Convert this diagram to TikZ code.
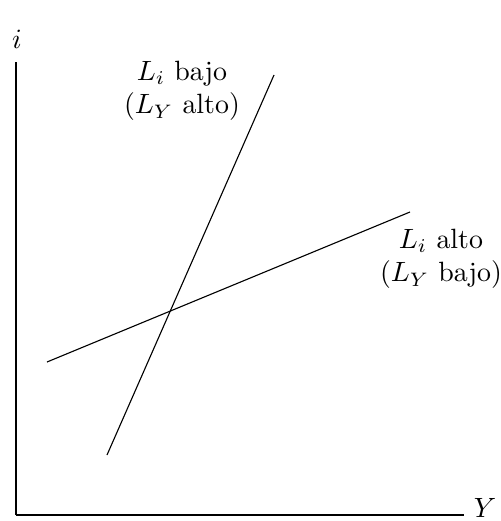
\documentclass[tikz,border=0pt]{standalone}
\usetikzlibrary{positioning}
\begin{document}
\begin{tikzpicture}[x=0.0126cm, y=-0.0126cm]
  \useasboundingbox (0,0) rectangle (500,521);
  % axes
  \coordinate (O) at (16,515);
  \coordinate (itop) at (16,62);
  \node (ilab) at (17,39) {$i$};
  \node (Ylab) at (485,508) {$Y$};
  \draw (O) -- (itop);
  \draw (O) -- (Ylab.west |- O);

  % steep curve
  \coordinate (s1) at (107,455);
  \coordinate (s2) at (274,75);
  \draw (s1) -- (s2);
  \node[align=center] (steep) at (182,91) {$L_i$ bajo\\($L_Y$ alto)};

  % flat curve
  \coordinate (f1) at (47,362);
  \coordinate (f2) at (410,212);
  \draw (f1) -- (f2);
  \node[align=center] (flat) at (441,259) {$L_i$ alto\\($L_Y$ bajo)};
\end{tikzpicture}
\end{document}
